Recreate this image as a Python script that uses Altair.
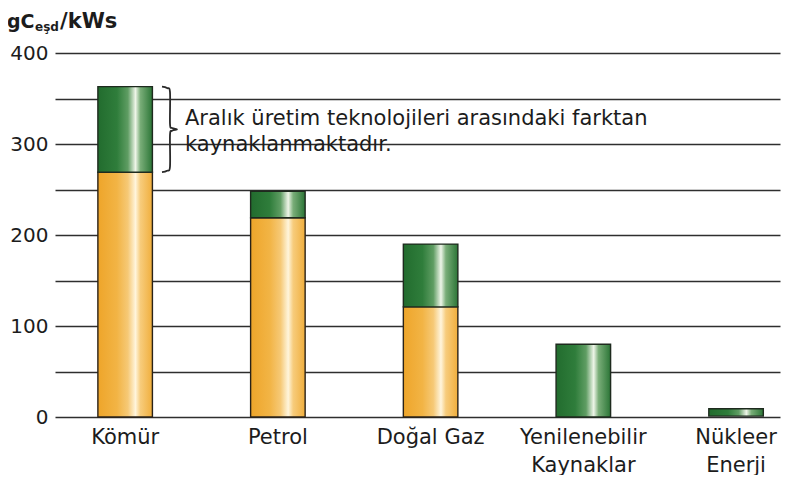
import altair as alt
import pandas as pd

# ---- data ----
categories = ["Kömür", "Petrol", "Doğal Gaz", "Yenilenebilir|Kaynaklar", "Nükleer|Enerji"]
orange_top = [269, 219, 121, 0, 0]      # lower (orange) part of each bar
green_bottom = [269, 219, 121, 0, 1]    # start of range (green) part
green_top = [363, 248, 190, 80, 9]      # top of range
y_ticks = [0, 50, 100, 150, 200, 250, 300, 350, 400]
title_parts = ["gC", "eşd", "/kWs"]
annotation = "Aralık üretim teknolojileri arasındaki farktan|kaynaklanmaktadır."

FONT = "DejaVu Sans"
INK = "#1c1c1c"

df = pd.DataFrame({"cat": categories, "o": orange_top, "g0": green_bottom, "g1": green_top})

# brace next to the Kömür range (x in pixels, y in data units tied to the Kömür bar)
lo, hi = green_bottom[0], green_top[0]
mid = (lo + hi) / 2
brace = pd.DataFrame({
    "bx": [107, 112, 115, 115, 117, 122, 117, 115, 115, 112, 107],
    "by": [hi, hi - 1.5, hi - 6, mid + 6, mid + 1.5, mid, mid - 1.5, mid - 6, lo + 6, lo + 1.5, lo],
    "i": list(range(11)),
})

def grad(stops):
    return alt.Gradient(
        gradient="linear", x1=0, x2=1, y1=0, y2=0,
        stops=[alt.GradientStop(offset=o, color=c) for o, c in stops],
    )

green_grad = grad([(0, "#226c2e"), (0.35, "#2f7d3b"), (0.55, "#5f9d63"),
                   (0.69, "#eef5e8"), (0.78, "#79ad78"), (1, "#2b7536")])
orange_grad = grad([(0, "#eea52a"), (0.35, "#f2b445"), (0.55, "#f6c976"),
                    (0.69, "#fff5dc"), (0.78, "#f7cc7c"), (1, "#f0ae3c")])

xscale = alt.Scale(domain=categories, paddingInner=0.643, paddingOuter=0.195, align=0.72)
yscale = alt.Scale(domain=[0, 400], nice=False, zero=True)

xenc = alt.X(
    "cat:N", scale=xscale, sort=categories,
    axis=alt.Axis(title=None, labelExpr="split(datum.label, '|')", labelFont=FONT,
                  labelFontSize=21, labelColor=INK, labelPadding=9, labelLineHeight=28,
                  ticks=False, domain=False, labelAngle=0),
)

yaxis = alt.Axis(values=y_ticks, labelExpr="datum.value % 100 == 0 ? datum.label : ''",
                 grid=True, gridColor="#2e2e2e", gridWidth=1.7, ticks=False, domain=False,
                 labelFont=FONT, labelFontSize=20, labelColor=INK, labelPadding=7, title=None)

# axis + grid carrier layer
grid_layer = alt.Chart(pd.DataFrame({"v": y_ticks})).mark_tick(opacity=0).encode(
    y=alt.Y("v:Q", scale=yscale, axis=yaxis)
)

orange = alt.Chart(df).transform_filter("datum.o > 0").mark_bar(
    fill=orange_grad, stroke="#2a2218", strokeWidth=1.4
).encode(x=xenc, y=alt.Y("o:Q", scale=yscale, axis=yaxis))

green = alt.Chart(df).mark_bar(
    fill=green_grad, stroke="#1e2a1e", strokeWidth=1.4
).encode(x=xenc, y=alt.Y("g1:Q", scale=yscale, axis=yaxis), y2="g0:Q")

brace_line = alt.Chart(brace).mark_line(
    color="#2a2a2a", strokeWidth=1.8, interpolate="cardinal"
).encode(
    x=alt.X("bx:Q", scale=None, axis=None),
    y=alt.Y("by:Q", scale=yscale, axis=yaxis),
    order="i:Q",
)

note = alt.Chart(pd.DataFrame({"t": [annotation]})).mark_text(
    font=FONT, fontSize=21, color=INK, align="left", baseline="alphabetic",
    lineBreak="|", lineHeight=26,
).encode(text="t:N", x=alt.value(130), y=alt.value(72))

t_main = alt.Chart(pd.DataFrame({"t": [title_parts[0]]})).mark_text(
    font=FONT, fontSize=19, fontWeight="bold", color=INK, align="left", baseline="alphabetic"
).encode(text="t:N", x=alt.value(-48), y=alt.value(-25))
t_sub = alt.Chart(pd.DataFrame({"t": [title_parts[1]]})).mark_text(
    font=FONT, fontSize=12, fontWeight="bold", color=INK, align="left", baseline="alphabetic"
).encode(text="t:N", x=alt.value(-20), y=alt.value(-22))
t_unit = alt.Chart(pd.DataFrame({"t": [title_parts[2]]})).mark_text(
    font=FONT, fontSize=21, fontWeight="bold", color=INK, align="left", baseline="alphabetic"
).encode(text="t:N", x=alt.value(5), y=alt.value(-25))

chart = alt.layer(grid_layer, orange, green, brace_line, note, t_main, t_sub, t_unit).properties(
    width=725, height=364,
    padding={"left": 47, "top": 45, "right": 5, "bottom": 58},
    autosize=alt.AutoSizeParams(type="none"),
    background="white",
).configure_view(stroke=None)

chart.save("out.html", embed_options={"renderer": "svg", "actions": False})
